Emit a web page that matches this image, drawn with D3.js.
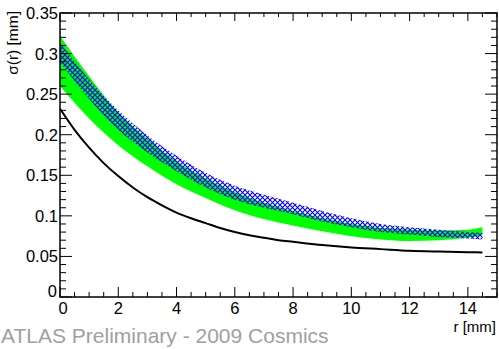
<!DOCTYPE html>
<html><head><meta charset="utf-8">
<script src="https://cdn.jsdelivr.net/npm/d3@7"></script>
<style>html,body{margin:0;padding:0;background:#fff}svg{display:block}</style>
</head><body>
<svg id="c" width="499" height="349"></svg>
<script>
// ---- data ----
const rBand   = [0, 1, 2, 3, 4, 5, 6, 7, 8, 9, 10, 11, 12, 13, 14, 14.5];
const greenLo = [0.260, 0.220, 0.187, 0.161, 0.139, 0.122, 0.107, 0.096, 0.088, 0.081, 0.075, 0.071, 0.069, 0.070, 0.073, 0.076];
const greenHi = [0.322, 0.272, 0.227, 0.195, 0.167, 0.146, 0.129, 0.116, 0.106, 0.097, 0.090, 0.085, 0.083, 0.082, 0.083, 0.086];
const blueLo  = [0.290, 0.244, 0.206, 0.178, 0.155, 0.135, 0.120, 0.110, 0.102, 0.093, 0.086, 0.080, 0.077, 0.074, 0.072, 0.071];
const blueHi  = [0.314, 0.268, 0.230, 0.199, 0.174, 0.153, 0.137, 0.126, 0.116, 0.106, 0.097, 0.090, 0.086, 0.083, 0.080, 0.079];
const rLine   = [0, 0.5, 1, 1.5, 2, 2.5, 3, 3.5, 4, 4.5, 5, 5.5, 6, 6.5, 7, 7.5, 8, 9, 10, 11, 12, 13, 14, 14.5];
const sigLine = [0.232, 0.206, 0.184, 0.165, 0.149, 0.135, 0.123, 0.113, 0.104, 0.097, 0.091, 0.085, 0.080, 0.076, 0.073, 0.070, 0.068, 0.064, 0.061, 0.059, 0.057, 0.056, 0.0553, 0.0549];
const xTickLabels = ["0", "2", "4", "6", "8", "10", "12", "14"];
const yTickLabels = ["0", "0.05", "0.1", "0.15", "0.2", "0.25", "0.3", "0.35"];

// ---- layout ----
const L = 60, R = 497, T = 13, B = 297;
const x = d3.scaleLinear().domain([0, 15]).range([L, R]);
const y = d3.scaleLinear().domain([0, 0.35]).range([B, T]);
const svg = d3.select("#c");
const font = "Liberation Sans, Arial, Helvetica, sans-serif";

// hatch pattern
const defs = svg.append("defs");
const pat = defs.append("pattern").attr("id", "hatch").attr("patternUnits", "userSpaceOnUse")
  .attr("width", 5).attr("height", 5);
pat.append("path").attr("d", "M0,0L5,5M5,0L0,5").attr("stroke", "#0000ff").attr("stroke-width", 1.1).attr("fill", "none");

const gData = rBand.map((r, i) => ({r, lo: greenLo[i], hi: greenHi[i]}));
const bData = rBand.map((r, i) => ({r, lo: blueLo[i], hi: blueHi[i]}));
const area = d3.area().x(d => x(d.r)).y0(d => y(d.lo)).y1(d => y(d.hi)).curve(d3.curveMonotoneX);

svg.append("path").datum(gData).attr("d", area).attr("fill", "#00ff00");
svg.append("path").datum(bData).attr("d", area).attr("fill", "url(#hatch)");

const line = d3.line().x((d, i) => x(rLine[i])).y(d => y(d)).curve(d3.curveMonotoneX);
svg.append("path").datum(sigLine).attr("d", line).attr("fill", "none").attr("stroke", "#000").attr("stroke-width", 2);

// frame
svg.append("rect").attr("x", L).attr("y", T).attr("width", R - L).attr("height", B - T)
  .attr("fill", "none").attr("stroke", "#000").attr("stroke-width", 1.5);

// ticks
const g = svg.append("g").attr("stroke", "#000").attr("stroke-width", 1);
const xMinor = d3.range(0, 15.01, 0.5);
xMinor.forEach(v => {
  const major = Math.abs(v / 2 - Math.round(v / 2)) < 1e-6;
  const len = major ? 10 : 5;
  g.append("line").attr("x1", x(v)).attr("x2", x(v)).attr("y1", B).attr("y2", B - len);
  g.append("line").attr("x1", x(v)).attr("x2", x(v)).attr("y1", T).attr("y2", T + (major ? 8 : 4));
});
const yMinor = d3.range(0, 0.3501, 0.01);
yMinor.forEach(v => {
  const major = Math.abs(v / 0.05 - Math.round(v / 0.05)) < 1e-6;
  const len = major ? 12 : 6;
  g.append("line").attr("x1", L).attr("x2", L + len).attr("y1", y(v)).attr("y2", y(v));
  g.append("line").attr("x1", R).attr("x2", R - len).attr("y1", y(v)).attr("y2", y(v));
});

// tick labels
const xt = svg.append("g").attr("font-family", font).attr("font-size", 16.5).attr("text-anchor", "middle");
xTickLabels.forEach(t => {
  xt.append("text").attr("x", x(+t) + (t === "0" ? 3 : 0)).attr("y", 314).text(t);
});
const yt = svg.append("g").attr("font-family", font).attr("font-size", 16.5).attr("text-anchor", "end");
yTickLabels.forEach(t => {
  yt.append("text").attr("x", t === "0" ? 57 : 58).attr("y", y(+t) + (t === "0" ? 0 : 6)).text(t);
});

// axis titles
svg.append("text").attr("font-family", font).attr("font-size", 15).attr("text-anchor", "end")
  .attr("x", 496).attr("y", 332).text("r [mm]");
svg.append("text").attr("font-family", font).attr("font-size", 15.5).attr("text-anchor", "end")
  .attr("transform", "translate(18,11) rotate(-90)").text("σ(r) [mm]");

svg.append("text").attr("font-family", font).attr("font-size", 21).attr("fill", "#a0a0a0")
  .attr("x", 1).attr("y", 343).text("ATLAS Preliminary - 2009 Cosmics");
</script>
</body></html>
